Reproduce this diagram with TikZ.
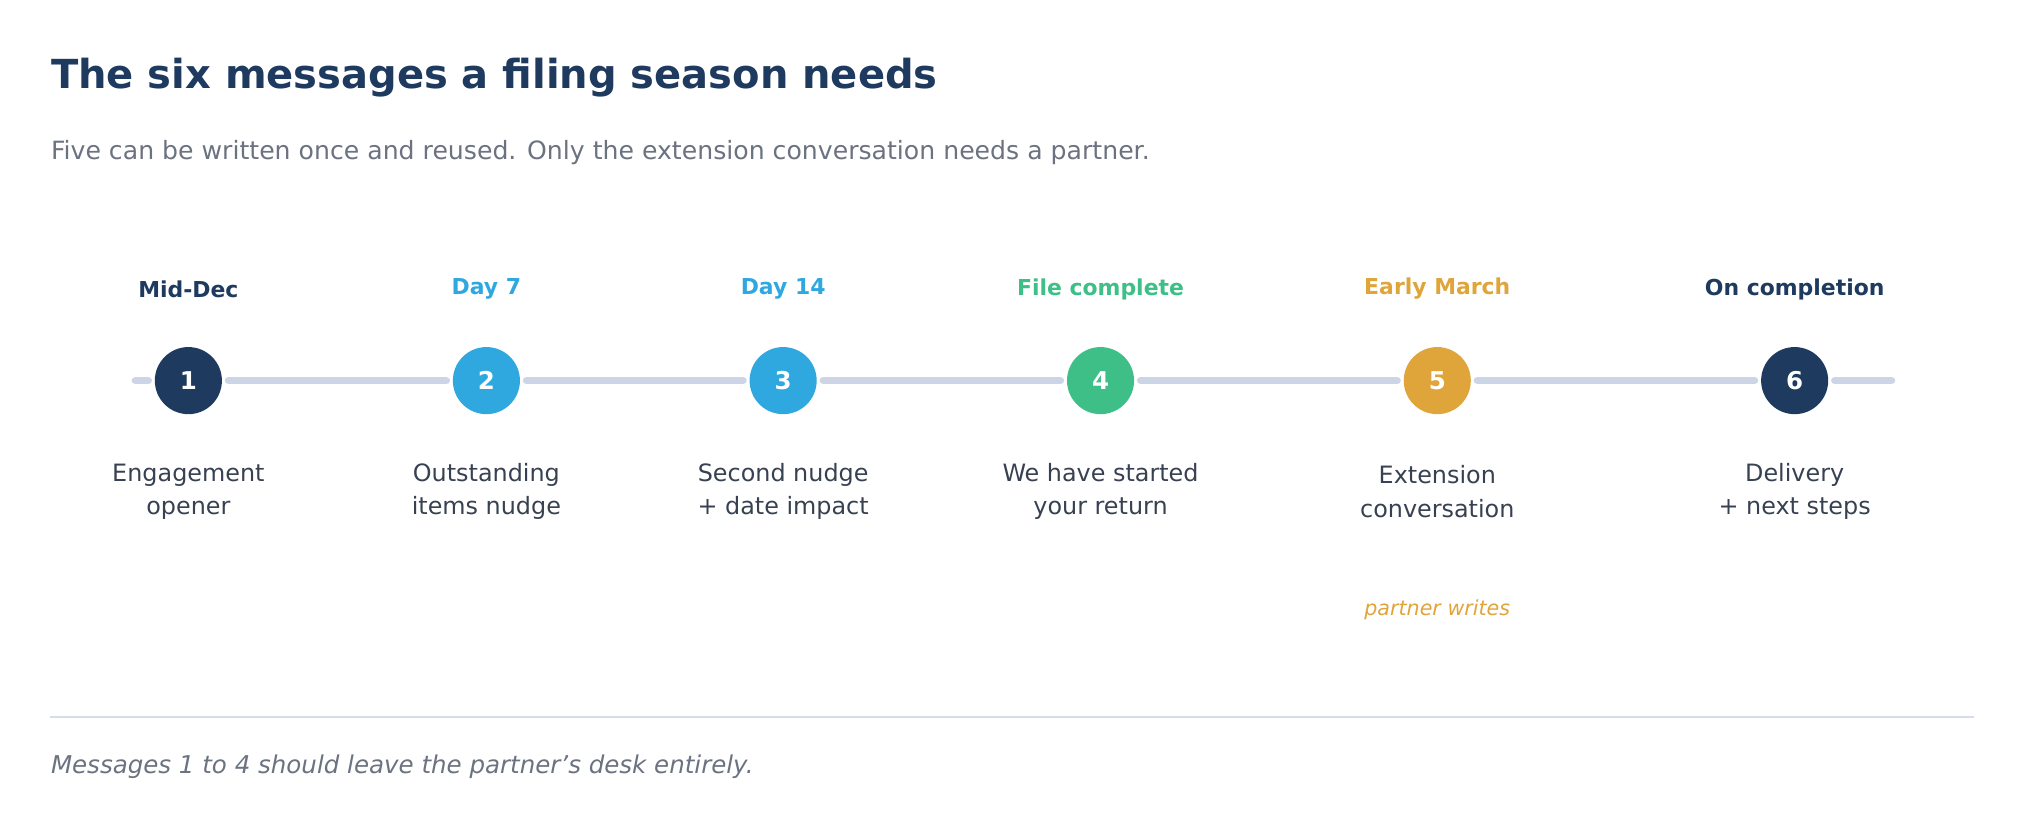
\documentclass[tikz,border=0pt]{standalone}
\usepackage{fontspec}
\setmainfont{DejaVu Sans}
\usetikzlibrary{positioning}
\definecolor{navy}{HTML}{1E3A5F}
\definecolor{sky}{HTML}{2FA8E0}
\definecolor{mint}{HTML}{3DBF87}
\definecolor{amber}{HTML}{E0A53A}
\definecolor{track}{HTML}{CBD5E6}
\definecolor{greytext}{HTML}{6B7280}
\definecolor{bodytext}{HTML}{374151}
\tikzset{
  step/.style={circle, minimum size=52pt, inner sep=0pt, fill=#1, text=white, font=\fontsize{19}{22}\selectfont\bfseries},
  when/.style={text=#1, font=\fontsize{17}{20}\selectfont\bfseries},
  what/.style={text=bodytext, align=center, font=\fontsize{18.5}{26}\selectfont},
  seg/.style={track, line width=6pt, line cap=round, shorten <=5pt, shorten >=5pt}
}
\begin{document}
\begin{tikzpicture}[x=1pt, y=-1pt]
  \useasboundingbox (0,0) rectangle (1568,638);

  \node (title) [anchor=west, text=navy, font=\fontsize{31}{36}\selectfont\bfseries] at (36,60) {The six messages a filing season needs};
  \node (subtitle) [anchor=west, text=greytext, font=\fontsize{19.5}{24}\selectfont] at (36,118) {Five can be written once and reused. Only the extension conversation needs a partner.};

  \coordinate (start) at (110,295);
  \coordinate (stop) at (1466,295);
  \node (s1) [step=navy] at (146,295) {1};
  \node (s2) [step=sky] at (377,295) {2};
  \node (s3) [step=sky] at (607,295) {3};
  \node (s4) [step=mint] at (853,295) {4};
  \node (s5) [step=amber] at (1114,295) {5};
  \node (s6) [step=navy] at (1391,295) {6};

  \draw [track, line width=6pt, line cap=round] (start) -- ++(1,0);
  \draw [seg, shorten <=0pt] ([xshift=-5pt]start) -- (s1);
  \draw [seg] (s1) -- (s2);
  \draw [seg] (s2) -- (s3);
  \draw [seg] (s3) -- (s4);
  \draw [seg] (s4) -- (s5);
  \draw [seg] (s5) -- (s6);
  \draw [seg, shorten >=0pt] (s6) -- (stop);

  \node (w1) [when=navy] at (146,224) {Mid-Dec};
  \node (w2) [when=sky] at (377,224) {Day 7};
  \node (w3) [when=sky] at (607,224) {Day 14};
  \node (w4) [when=mint] at (853,224) {File complete};
  \node (w5) [when=amber] at (1114,224) {Early March};
  \node (w6) [when=navy] at (1391,224) {On completion};

  \node (d1) [what] at (146,381) {Engagement\\opener};
  \node (d2) [what] at (377,381) {Outstanding\\items nudge};
  \node (d3) [what] at (607,381) {Second nudge\\+ date impact};
  \node (d4) [what] at (853,381) {We have started\\your return};
  \node (d5) [what] at (1114,381) {Extension\\conversation};
  \node (d6) [what] at (1391,381) {Delivery\\+ next steps};

  \node (partner) [text=amber, font=\fontsize{16}{20}\selectfont\itshape] at (1114,473) {partner writes};

  \draw [track!80, line width=1.5pt] (39,556) -- (1530,556);
  \node (footnote) [anchor=west, text=greytext, font=\fontsize{19}{24}\selectfont\itshape] at (36,594) {Messages 1 to 4 should leave the partner's desk entirely.};
\end{tikzpicture}
\end{document}
